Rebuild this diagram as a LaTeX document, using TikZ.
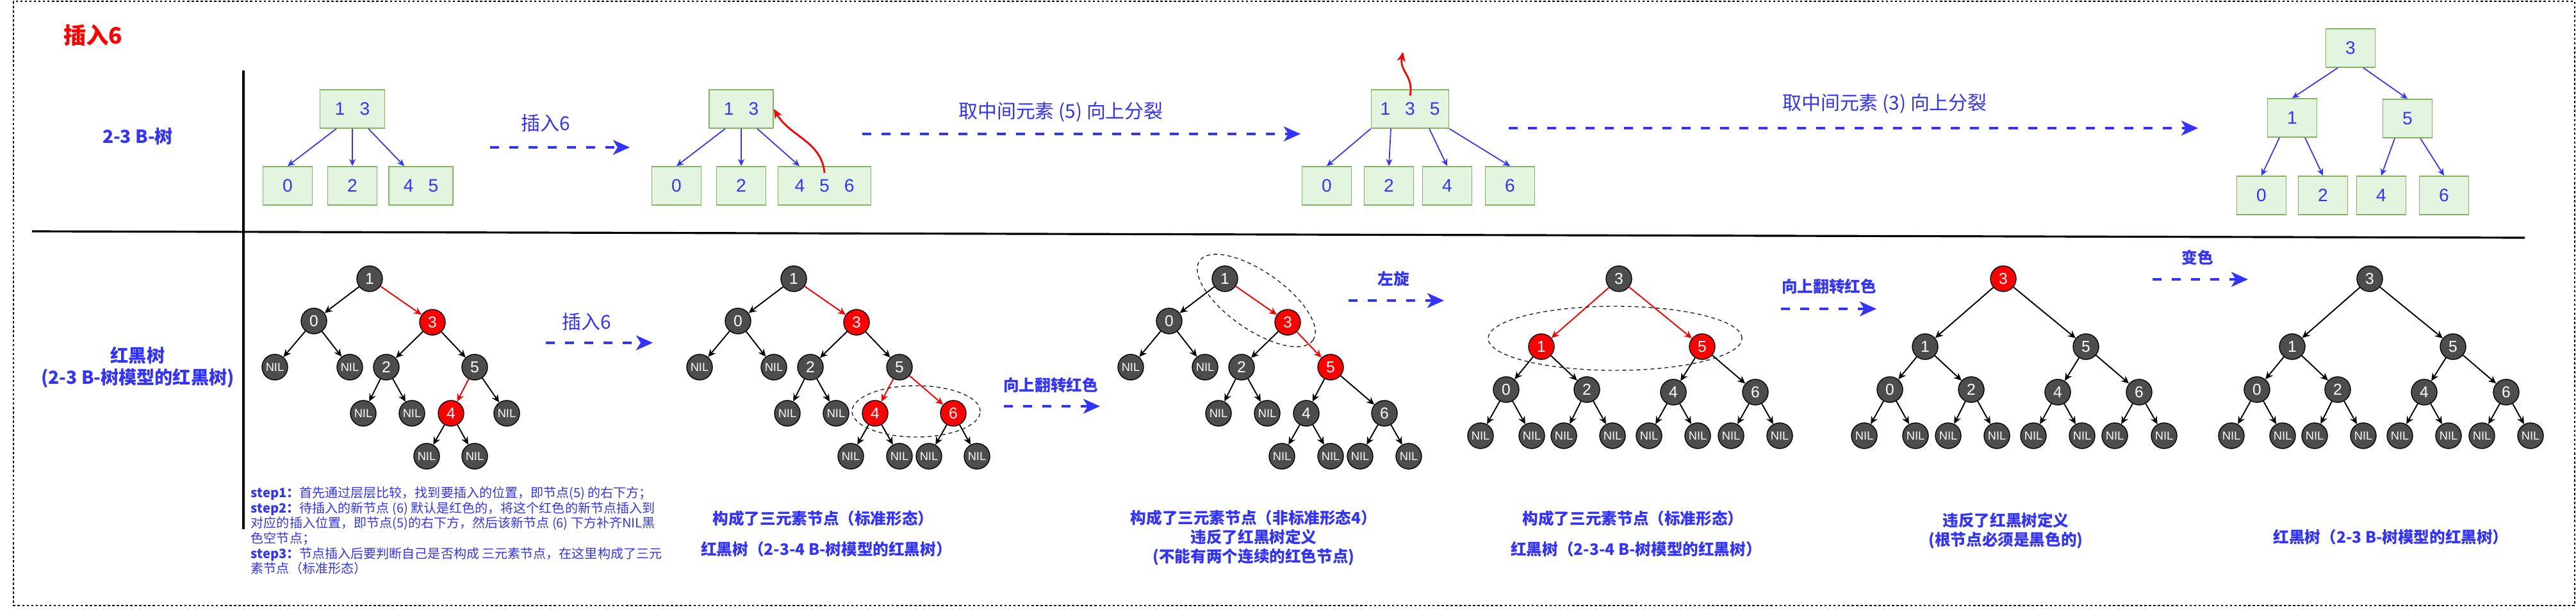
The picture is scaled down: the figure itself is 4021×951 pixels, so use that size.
\documentclass[tikz,border=0pt]{standalone}
\usepackage{fontspec}
\setmainfont{Noto Sans CJK SC}
\newfontfamily\digitfont{Liberation Sans}
\XeTeXlinebreaklocale "zh"
\XeTeXlinebreakskip=0pt plus 1pt
\usetikzlibrary{arrows.meta,positioning}

\definecolor{ink}{HTML}{3333FF}
\definecolor{boxfill}{HTML}{E3F4DF}
\definecolor{boxline}{HTML}{82B366}
\definecolor{nodegray}{HTML}{4D4D4D}
\newcommand{\kgap}{\hspace{2.3mm}}

\begin{document}
\begin{tikzpicture}[x=0.01cm, y=-0.01cm, line width=0.5pt,
    keybox/.style={draw=boxline, fill=boxfill, text=ink, inner sep=0pt,
      minimum width=0.77cm, minimum height=0.6cm, font=\digitfont\fontsize{8}{9}\selectfont},
    kedge/.style={draw=ink, line width=0.5pt, -{Stealth[length=1.1mm,width=1mm]}},
    rbnode/.style={circle, draw=black, line width=0.4pt, fill=nodegray, text=white,
      minimum size=0.4cm, inner sep=0pt, font=\digitfont\fontsize{7}{8}\selectfont},
    rednode/.style={rbnode, fill=red},
    nilnode/.style={rbnode, font=\digitfont\fontsize{5.2}{6}\selectfont},
    bk/.style={draw=black, line width=0.55pt, -{Stealth[length=1.2mm,width=1.1mm]}},
    rd/.style={bk, draw=red},
    flow/.style={draw=ink, line width=1.15pt, dash pattern=on 1.4mm off 1.6mm,
      -{Stealth[length=2.6mm,width=2.3mm,inset=0.7mm]}},
    flowtext/.style={text=ink, font=\fontsize{8.5}{10}\selectfont},
    boldtext/.style={text=ink, font=\bfseries\fontsize{7}{8.5}\selectfont, align=center},
    upflow/.style={draw=red, line width=0.8pt, -{Stealth[length=1.5mm,width=1.3mm]}},
    grouping/.style={draw=black!85, line width=0.4pt, dash pattern=on 0.6mm off 0.5mm}]

  \useasboundingbox (0,0) rectangle (4021,951);

  % Frame and the two rows
  \draw[line width=0.4pt, dash pattern=on 1pt off 1pt] (21,2) rectangle (4019,945);
  \draw[line width=0.9pt] (380,110) -- (380,826);
  \draw[line width=0.9pt] (50,361) -- (3941,371);

  \node[text=red, font=\bfseries\fontsize{10}{12}\selectfont] (title) at (145,55) {插入6};
  \node[text=ink, font=\bfseries\fontsize{8}{9.6}\selectfont] (rowbt) at (215,213) {2-3 B-树};
  \node[text=ink, font=\bfseries\fontsize{8}{9.6}\selectfont, align=center] (rowrb) at (215,573)
    {红黑树\\(2-3 B-树模型的红黑树)};

  % 2-3 tree before the insert
  \node[keybox, minimum width=1.01cm] (p13) at (550,170) {1\kgap3};
  \node[keybox] (p0) at (449,290) {0};
  \node[keybox] (p2) at (550,290) {2};
  \node[keybox, minimum width=1cm] (p45) at (657,290) {4\kgap5};
  \draw[kedge] ([xshift=-0.25cm]p13.south) -- (p0.north);
  \draw[kedge] (p13.south) -- (p2.north);
  \draw[kedge] ([xshift=0.25cm]p13.south) -- ([xshift=-0.26cm]p45.north);

  \coordinate (fa1) at (765,230);
  \coordinate (fa2) at (983,230);
  \draw[flow] (fa1) -- (fa2);
  \node[flowtext] (fat) at (852,192) {插入6};

  % 6 joins the leaf
  \node[keybox, minimum width=1cm] (q13) at (1157,170) {1\kgap3};
  \node[keybox] (q0) at (1056,290) {0};
  \node[keybox] (q2) at (1157,290) {2};
  \node[keybox, minimum width=1.45cm] (q456) at (1287,290) {4\kgap5\kgap6};
  \draw[kedge] ([xshift=-0.25cm]q13.south) -- (q0.north);
  \draw[kedge] (q13.south) -- (q2.north);
  \draw[kedge] ([xshift=0.25cm]q13.south) -- ([xshift=-0.39cm]q456.north);
  \draw[upflow] ([yshift=0.2cm]q456.center) to[out=95,in=-60] (q13.east);

  \coordinate (fb1) at (1346,209);
  \coordinate (fb2) at (2030,209);
  \draw[flow] (fb1) -- (fb2);
  \node[flowtext] (fbt) at (1656,175) {取中间元素 (5) 向上分裂};

  % 5 goes up into the root
  \node[keybox, minimum width=1.21cm] (r135) at (2201,170) {1\kgap3\kgap5};
  \node[keybox] (r0) at (2071,290) {0};
  \node[keybox] (r2) at (2168,290) {2};
  \node[keybox] (r4) at (2259,290) {4};
  \node[keybox] (r6) at (2357,290) {6};
  \draw[kedge] (r135.south west) -- (r0.north);
  \draw[kedge] ([xshift=-0.3cm]r135.south) -- (r2.north);
  \draw[kedge] ([xshift=0.3cm]r135.south) -- (r4.north);
  \draw[kedge] (r135.south east) -- (r6.north);
  \coordinate (r5up) at (2190,81);
  \draw[upflow] ([yshift=-0.1cm]r135.north) .. controls (2207,118) and (2184,112) .. (r5up);

  \coordinate (fc1) at (2355,200);
  \coordinate (fc2) at (3431,200);
  \draw[flow] (fc1) -- (fc2);
  \node[flowtext] (fct) at (2942,162) {取中间元素 (3) 向上分裂};

  % The split tree
  \node[keybox] (s3) at (3669,75) {3};
  \node[keybox] (s1) at (3578,184) {1};
  \node[keybox] (s5) at (3758,185) {5};
  \node[keybox] (s0) at (3530,305) {0};
  \node[keybox] (s2) at (3626,305) {2};
  \node[keybox] (s4) at (3717,305) {4};
  \node[keybox] (s6) at (3815,305) {6};
  \draw[kedge] ([xshift=-0.2cm]s3.south) -- (s1.north);
  \draw[kedge] ([xshift=0.2cm]s3.south) -- (s5.north);
  \draw[kedge] ([xshift=-0.2cm]s1.south) -- (s0.north);
  \draw[kedge] ([xshift=0.2cm]s1.south) -- (s2.north);
  \draw[kedge] ([xshift=-0.2cm]s5.south) -- (s4.north);
  \draw[kedge] ([xshift=0.2cm]s5.south) -- (s6.north);

  % Red-black tree before the insert
  \node[rbnode] (a1) at (577,435) {1};
  \node[rbnode] (a0) at (490,501) {0};
  \node[rednode] (a3) at (675,503) {3};
  \node[nilnode] (an1) at (429,573) {NIL};
  \node[nilnode] (an2) at (546,573) {NIL};
  \node[rbnode] (a2) at (603,573) {2};
  \node[rbnode] (a5) at (741,573) {5};
  \node[nilnode] (an3) at (567,645) {NIL};
  \node[nilnode] (an4) at (643,645) {NIL};
  \node[rednode] (a4) at (704,645) {4};
  \node[nilnode] (an5) at (791,645) {NIL};
  \node[nilnode] (an6) at (666,712) {NIL};
  \node[nilnode] (an7) at (741,712) {NIL};
  \path (a1) edge[bk] (a0) edge[rd] (a3)
        (a0) edge[bk] (an1) edge[bk] (an2)
        (a3) edge[bk] (a2) edge[bk] (a5)
        (a2) edge[bk] (an3) edge[bk] (an4)
        (a5) edge[rd] (a4) edge[bk] (an5)
        (a4) edge[bk] (an6) edge[bk] (an7);

  \node[anchor=north west, inner sep=0pt, align=left, text=ink,
        font=\fontsize{5.7}{6.7}\selectfont] (steps) at (391,759)
    {\textbf{step1：}首先通过层层比较，找到要插入的位置，即节点(5) 的右下方；\\
     \textbf{step2：}待插入的新节点 (6) 默认是红色的，将这个红色的新节点插入到\\
     对应的插入位置，即节点(5)的右下方，然后该新节点 (6) 下方补齐NIL黑\\
     色空节点；\\
     \textbf{step3：}节点插入后要判断自己是否构成 三元素节点，在这里构成了三元\\
     素节点（标准形态）};

  \coordinate (fd1) at (852,535);
  \coordinate (fd2) at (1019,535);
  \draw[flow] (fd1) -- (fd2);
  \node[flowtext] (fdt) at (916,502) {插入6};

  % 6 hangs under 5
  \node[rbnode] (b1) at (1239,435) {1};
  \node[rbnode] (b0) at (1152,501) {0};
  \node[rednode] (b3) at (1337,503) {3};
  \node[nilnode] (bn1) at (1092,573) {NIL};
  \node[nilnode] (bn2) at (1208,573) {NIL};
  \node[rbnode] (b2) at (1265,573) {2};
  \node[rbnode] (b5) at (1404,573) {5};
  \node[nilnode] (bn3) at (1229,645) {NIL};
  \node[nilnode] (bn4) at (1305,645) {NIL};
  \node[rednode] (b4) at (1366,645) {4};
  \node[rednode] (b6) at (1488,645) {6};
  \node[nilnode] (bn5) at (1328,712) {NIL};
  \node[nilnode] (bn6) at (1404,712) {NIL};
  \node[nilnode] (bn7) at (1450,712) {NIL};
  \node[nilnode] (bn8) at (1525,712) {NIL};
  \path (b1) edge[bk] (b0) edge[rd] (b3)
        (b0) edge[bk] (bn1) edge[bk] (bn2)
        (b3) edge[bk] (b2) edge[bk] (b5)
        (b2) edge[bk] (bn3) edge[bk] (bn4)
        (b5) edge[rd] (b4) edge[rd] (b6)
        (b4) edge[bk] (bn5) edge[bk] (bn6)
        (b6) edge[bk] (bn7) edge[bk] (bn8);
  \draw[grouping] (1430,642) ellipse [x radius=1cm, y radius=0.4cm];
  \node[boldtext] (bcap1) at (1285,809) {构成了三元素节点（标准形态）};
  \node[boldtext] (bcap2) at (1290,857) {红黑树（2-3-4 B-树模型的红黑树）};

  \coordinate (fe1) at (1567,634);
  \coordinate (fe2) at (1717,634);
  \draw[flow] (fe1) -- (fe2);
  \node[boldtext] (fet) at (1640,601) {向上翻转红色};

  % Colours flipped, 3 and 5 now both red
  \node[rbnode] (c1) at (1912,435) {1};
  \node[rbnode] (c0) at (1825,501) {0};
  \node[rednode] (c3) at (2010,503) {3};
  \node[nilnode] (cn1) at (1765,573) {NIL};
  \node[nilnode] (cn2) at (1881,573) {NIL};
  \node[rbnode] (c2) at (1938,573) {2};
  \node[rednode] (c5) at (2077,573) {5};
  \node[nilnode] (cn3) at (1902,645) {NIL};
  \node[nilnode] (cn4) at (1978,645) {NIL};
  \node[rbnode] (c4) at (2039,645) {4};
  \node[rbnode] (c6) at (2161,645) {6};
  \node[nilnode] (cn5) at (2001,712) {NIL};
  \node[nilnode] (cn6) at (2077,712) {NIL};
  \node[nilnode] (cn7) at (2123,712) {NIL};
  \node[nilnode] (cn8) at (2199,712) {NIL};
  \path (c1) edge[bk] (c0) edge[rd] (c3)
        (c0) edge[bk] (cn1) edge[bk] (cn2)
        (c3) edge[bk] (c2) edge[rd] (c5)
        (c2) edge[bk] (cn3) edge[bk] (cn4)
        (c5) edge[bk] (c4) edge[bk] (c6)
        (c4) edge[bk] (cn5) edge[bk] (cn6)
        (c6) edge[bk] (cn7) edge[bk] (cn8);
  \draw[grouping, rotate around={-35:(1961,469)}] (1961,469) ellipse [x radius=1.08cm, y radius=0.45cm];
  \node[boldtext, font=\bfseries\fontsize{7}{8.5}\selectfont] (ccap) at (1957,839)
    {构成了三元素节点（非标准形态4）\\违反了红黑树定义\\(不能有两个连续的红色节点)};

  \coordinate (ff1) at (2105,469);
  \coordinate (ff2) at (2254,469);
  \draw[flow] (ff1) -- (ff2);
  \node[boldtext] (fft) at (2175,435) {左旋};

  % After the left rotation
  \node[rbnode] (d3) at (2527,435) {3};
  \node[rednode] (d1) at (2406,541) {1};
  \node[rednode] (d5) at (2657,541) {5};
  \node[rbnode] (d0) at (2351,608) {0};
  \node[rbnode] (d2) at (2477,608) {2};
  \node[rbnode] (d4) at (2612,612) {4};
  \node[rbnode] (d6) at (2740,612) {6};
  \node[nilnode] (dn1) at (2311,680) {NIL};
  \node[nilnode] (dn2) at (2391,680) {NIL};
  \node[nilnode] (dn3) at (2441,680) {NIL};
  \node[nilnode] (dn4) at (2517,680) {NIL};
  \node[nilnode] (dn5) at (2574,680) {NIL};
  \node[nilnode] (dn6) at (2650,680) {NIL};
  \node[nilnode] (dn7) at (2702,680) {NIL};
  \node[nilnode] (dn8) at (2778,680) {NIL};
  \path (d3) edge[rd] (d1) edge[rd] (d5)
        (d1) edge[bk] (d0) edge[bk] (d2)
        (d5) edge[bk] (d4) edge[bk] (d6)
        (d0) edge[bk] (dn1) edge[bk] (dn2)
        (d2) edge[bk] (dn3) edge[bk] (dn4)
        (d4) edge[bk] (dn5) edge[bk] (dn6)
        (d6) edge[bk] (dn7) edge[bk] (dn8);
  \draw[grouping] (2521,528) ellipse [x radius=1.98cm, y radius=0.5cm];
  \node[boldtext] (dcap1) at (2549,809) {构成了三元素节点（标准形态）};
  \node[boldtext] (dcap2) at (2554,857) {红黑树（2-3-4 B-树模型的红黑树）};

  \coordinate (fg1) at (2780,482);
  \coordinate (fg2) at (2929,482);
  \draw[flow] (fg1) -- (fg2);
  \node[boldtext] (fgt) at (2855,447) {向上翻转红色};

  % Red root
  \node[rednode] (e3) at (3127,435) {3};
  \node[rbnode] (e1) at (3005,541) {1};
  \node[rbnode] (e5) at (3256,541) {5};
  \node[rbnode] (e0) at (2950,608) {0};
  \node[rbnode] (e2) at (3077,608) {2};
  \node[rbnode] (e4) at (3212,612) {4};
  \node[rbnode] (e6) at (3339,612) {6};
  \node[nilnode] (en1) at (2910,680) {NIL};
  \node[nilnode] (en2) at (2990,680) {NIL};
  \node[nilnode] (en3) at (3041,680) {NIL};
  \node[nilnode] (en4) at (3117,680) {NIL};
  \node[nilnode] (en5) at (3174,680) {NIL};
  \node[nilnode] (en6) at (3250,680) {NIL};
  \node[nilnode] (en7) at (3301,680) {NIL};
  \node[nilnode] (en8) at (3378,680) {NIL};
  \path (e3) edge[bk] (e1) edge[bk] (e5)
        (e1) edge[bk] (e0) edge[bk] (e2)
        (e5) edge[bk] (e4) edge[bk] (e6)
        (e0) edge[bk] (en1) edge[bk] (en2)
        (e2) edge[bk] (en3) edge[bk] (en4)
        (e4) edge[bk] (en5) edge[bk] (en6)
        (e6) edge[bk] (en7) edge[bk] (en8);
  \node[boldtext] (ecap) at (3131,828) {违反了红黑树定义\\(根节点必须是黑色的)};

  \coordinate (fh1) at (3360,436);
  \coordinate (fh2) at (3509,436);
  \draw[flow] (fh1) -- (fh2);
  \node[boldtext] (fht) at (3430,402) {变色};

  % Final tree
  \node[rbnode] (f3) at (3699,435) {3};
  \node[rbnode] (f1) at (3578,541) {1};
  \node[rbnode] (f5) at (3829,541) {5};
  \node[rbnode] (f0) at (3523,608) {0};
  \node[rbnode] (f2) at (3649,608) {2};
  \node[rbnode] (f4) at (3784,612) {4};
  \node[rbnode] (f6) at (3912,612) {6};
  \node[nilnode] (fn1) at (3483,680) {NIL};
  \node[nilnode] (fn2) at (3563,680) {NIL};
  \node[nilnode] (fn3) at (3613,680) {NIL};
  \node[nilnode] (fn4) at (3689,680) {NIL};
  \node[nilnode] (fn5) at (3746,680) {NIL};
  \node[nilnode] (fn6) at (3822,680) {NIL};
  \node[nilnode] (fn7) at (3874,680) {NIL};
  \node[nilnode] (fn8) at (3950,680) {NIL};
  \path (f3) edge[bk] (f1) edge[bk] (f5)
        (f1) edge[bk] (f0) edge[bk] (f2)
        (f5) edge[bk] (f4) edge[bk] (f6)
        (f0) edge[bk] (fn1) edge[bk] (fn2)
        (f2) edge[bk] (fn3) edge[bk] (fn4)
        (f4) edge[bk] (fn5) edge[bk] (fn6)
        (f6) edge[bk] (fn7) edge[bk] (fn8);
  \node[boldtext] (fcap) at (3732,838) {红黑树（2-3 B-树模型的红黑树）};

\end{tikzpicture}
\end{document}
